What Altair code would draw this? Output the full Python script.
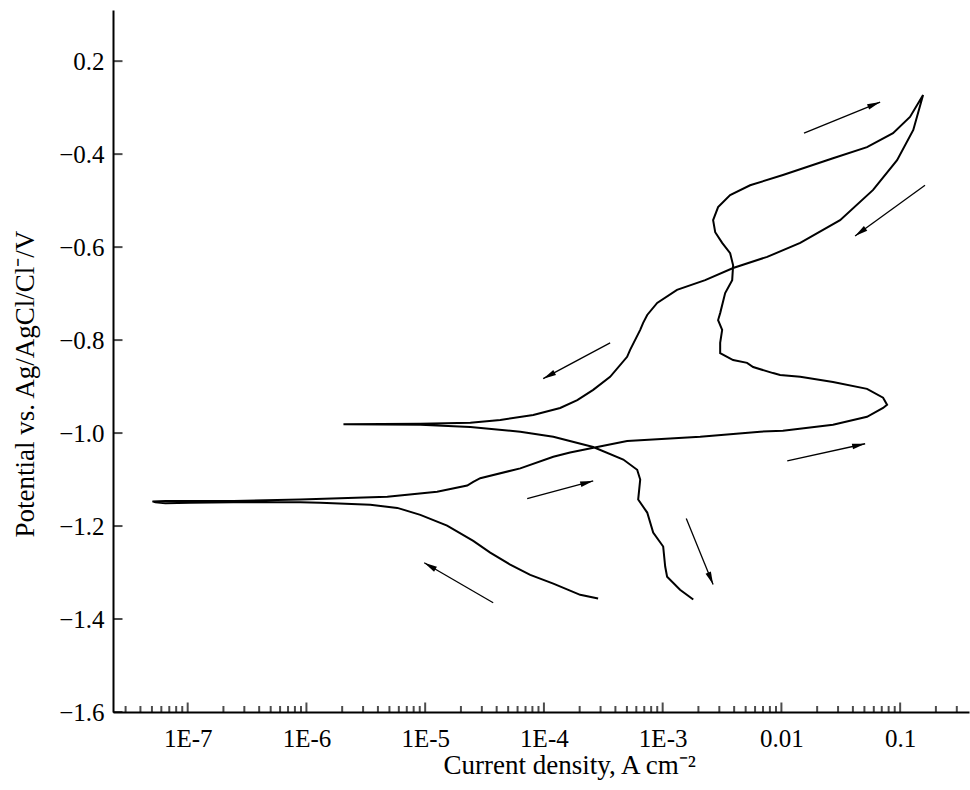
import math
import altair as alt
import pandas as pd

# ---------------- data (current density in A cm^-2, potential in V) ----------------
# forward scan, cathodic part: from start toward the corrosion potential
seg1_i = [2.86e-4, 2.02e-4, 1.20e-4, 7.67e-5, 5.20e-5, 3.53e-5, 2.54e-5, 1.53e-5, 9.10e-6,
          5.82e-6, 3.45e-6, 1.31e-6, 8.89e-7, 2.43e-7, 1.05e-7, 6.49e-8, 5.35e-8, 5.05e-8]
seg1_e = [-1.356, -1.348, -1.324, -1.305, -1.283, -1.257, -1.232, -1.199, -1.176,
          -1.161, -1.154, -1.150, -1.149, -1.149, -1.150, -1.151, -1.149, -1.147]

# forward scan, anodic part up to the vertex
seg2_i = [6.5e-8, 2.43e-7, 8.89e-7, 4.80e-6, 1.26e-5, 2.26e-5, 2.54e-5, 2.91e-5, 6.32e-5,
          1.20e-4, 1.66e-4, 2.81e-4, 5.02e-4, 2.07e-3, 6.62e-3, 1.03e-2, 2.72e-2, 5.26e-2,
          7.18e-2, 7.76e-2, 7.18e-2, 5.26e-2, 2.72e-2, 1.44e-2, 9.75e-3, 8.51e-3, 5.78e-3,
          5.14e-3, 3.92e-3, 3.49e-3, 3.05e-3, 3.05e-3, 3.17e-3, 2.93e-3, 3.05e-3, 3.36e-3,
          3.85e-3, 3.92e-3, 3.70e-3, 3.17e-3, 2.77e-3, 2.66e-3, 2.93e-3, 3.70e-3, 5.45e-3,
          1.03e-2, 2.72e-2, 5.26e-2, 8.71e-2, 0.121, 0.156]
seg2_e = [-1.146, -1.146, -1.143, -1.137, -1.126, -1.113, -1.105, -1.097, -1.076,
          -1.051, -1.042, -1.030, -1.017, -1.008, -0.997, -0.995, -0.982, -0.965,
          -0.946, -0.939, -0.924, -0.905, -0.890, -0.879, -0.875, -0.871, -0.858,
          -0.849, -0.843, -0.836, -0.828, -0.806, -0.778, -0.757, -0.742, -0.699,
          -0.671, -0.639, -0.613, -0.591, -0.568, -0.542, -0.514, -0.488, -0.467,
          -0.445, -0.409, -0.385, -0.355, -0.320, -0.273]

# reverse scan from the vertex down to the new corrosion potential
seg3_i = [0.156, 0.129, 9.42e-2, 5.92e-2, 3.12e-2, 1.44e-2, 7.59e-3, 3.92e-3, 2.28e-3,
          1.32e-3, 8.99e-4, 7.41e-4, 6.85e-4, 6.47e-4, 5.32e-4, 5.02e-4, 3.61e-4, 2.60e-4,
          1.91e-4, 1.37e-4, 8.13e-5, 4.29e-5, 2.40e-5, 9.10e-6, 2.05e-6]
seg3_e = [-0.273, -0.348, -0.413, -0.477, -0.542, -0.591, -0.621, -0.645, -0.671,
          -0.692, -0.720, -0.746, -0.763, -0.778, -0.821, -0.836, -0.879, -0.907,
          -0.929, -0.946, -0.961, -0.972, -0.978, -0.980, -0.981]

# reverse scan, cathodic part
seg4_i = [2.05e-6, 9.10e-6, 2.40e-5, 6.32e-5, 1.20e-4, 2.60e-4, 4.66e-4, 6.10e-4, 6.47e-4,
          6.22e-4, 7.41e-4, 8.32e-4, 1.01e-3, 1.05e-3, 1.09e-3, 1.40e-3, 1.81e-3]
seg4_e = [-0.981, -0.982, -0.987, -0.997, -1.008, -1.030, -1.057, -1.079, -1.100,
          -1.143, -1.171, -1.214, -1.244, -1.287, -1.309, -1.337, -1.358]

# scan-direction arrows (tail -> head)
arrow_tail_i = [1.55e-2, 0.162, 3.61e-4, 1.12e-2, 7.23e-5, 1.58e-3, 3.74e-5]
arrow_tail_e = [-0.355, -0.467, -0.806, -1.060, -1.141, -1.184, -1.365]
arrow_head_i = [6.78e-2, 4.17e-2, 9.86e-5, 5.07e-2, 2.60e-4, 2.66e-3, 9.82e-6]
arrow_head_e = [-0.288, -0.576, -0.883, -1.023, -1.103, -1.326, -1.279]

# axes
x_tick_values = [1e-7, 1e-6, 1e-5, 1e-4, 1e-3, 1e-2, 1e-1]
x_tick_labels = ["1E-7", "1E-6", "1E-5", "1E-4", "1E-3", "0.01", "0.1"]
minor_mantissas = [2, 3, 4, 5, 6, 7, 8, 9]
minor_exponents = [-8, -7, -6, -5, -4, -3, -2, -1]
y_tick_values = [-1.6, -1.4, -1.2, -1.0, -0.8, -0.6, -0.4, -0.2]
y_tick_labels = ["\u22121.6", "\u22121.4", "\u22121.2", "\u22121.0", "\u22120.8",
                 "\u22120.6", "\u22120.4", "0.2"]

x_domain = [2.35e-8, 0.38]
y_domain = [-1.6, -0.09]
W, H = 856, 702
FONT = "Liberation Serif"

# ---------------- tables ----------------
cur_i = seg1_i + seg2_i + seg3_i + seg4_i
cur_e = seg1_e + seg2_e + seg3_e + seg4_e
curve = pd.DataFrame({"i": cur_i, "e": cur_e, "k": list(range(len(cur_i)))})

minor_vals = [m * 10.0 ** p for p in minor_exponents for m in minor_mantissas
              if x_domain[0] <= m * 10.0 ** p <= x_domain[1]]
xmaj = pd.DataFrame({"i": x_tick_values})
xmin_df = pd.DataFrame({"i": minor_vals})
ytk = pd.DataFrame({"e": y_tick_values})


def px(v):
    lo, hi = math.log10(x_domain[0]), math.log10(x_domain[1])
    return W * (math.log10(v) - lo) / (hi - lo)


def py(v):
    return H * (y_domain[1] - v) / (y_domain[1] - y_domain[0])


angles = []
for ti, te, hi_, he in zip(arrow_tail_i, arrow_tail_e, arrow_head_i, arrow_head_e):
    dx = px(hi_) - px(ti)
    dy = py(he) - py(te)
    angles.append(math.degrees(math.atan2(dx, -dy)) % 360)

arrows = pd.DataFrame({"ti": arrow_tail_i, "te": arrow_tail_e,
                       "hi": arrow_head_i, "he": arrow_head_e, "ang": angles})

# ---------------- encodings ----------------
xs = alt.Scale(type="log", domain=x_domain)
ys = alt.Scale(domain=y_domain, zero=False, nice=False)

x_expr = " : ".join(
    f"datum.value < {v * 3.0} ? '{lab}'" for v, lab in zip(x_tick_values[:-1], x_tick_labels[:-1])
) + f" : '{x_tick_labels[-1]}'"
y_expr = "[" + ",".join(f"'{s}'" for s in y_tick_labels) + "][round((datum.value + 1.6) / 0.2)]"

X_TITLE = "Current density, A cm\u207b\u00b2"
Y_TITLE = "Potential vs. Ag/AgCl/Cl\u207b/V"

common = dict(tickSize=0, grid=False, domainWidth=2, domainColor="black", labelOverlap=False,
              labelFont=FONT, labelFontSize=25, labelColor="black",
              titleFont=FONT, titleFontSize=27, titleFontWeight="normal", titleColor="black",
              titleBaseline="alphabetic", titleAlign="left")
x_axis = alt.Axis(values=x_tick_values, labelExpr=x_expr, labelPadding=14,
                  titleX=330, titleY=61, **common)
y_axis = alt.Axis(values=y_tick_values, labelExpr=y_expr, labelPadding=9,
                  titleX=-80, titleY=527, titleAngle=270, **common)


def X(field):
    return alt.X(field, type="quantitative", scale=xs, axis=x_axis, title=X_TITLE)


def Y(field):
    return alt.Y(field, type="quantitative", scale=ys, axis=y_axis, title=Y_TITLE)


line = alt.Chart(curve).mark_line(color="black", strokeWidth=2, interpolate="linear").encode(
    x=X("i"),
    y=Y("e"),
    order=alt.Order("k:Q"),
)

major_ticks = alt.Chart(xmaj).mark_tick(orient="vertical", size=9.5, thickness=2,
                                        color="black", yOffset=-4.75).encode(
    x=X("i"),
    y=alt.datum(y_domain[0], type="quantitative", scale=ys, axis=y_axis, title=Y_TITLE),
)
minor_ticks = alt.Chart(xmin_df).mark_tick(orient="vertical", size=6, thickness=2,
                                           color="black", yOffset=-3).encode(
    x=X("i"),
    y=alt.datum(y_domain[0], type="quantitative", scale=ys, axis=y_axis, title=Y_TITLE),
)
y_ticks = alt.Chart(ytk).mark_tick(orient="horizontal", size=9.5, thickness=2,
                                   color="black", xOffset=4.75).encode(
    y=Y("e"),
    x=alt.datum(x_domain[0], type="quantitative", scale=xs, axis=x_axis, title=X_TITLE),
)

shafts = alt.Chart(arrows).mark_rule(color="black", strokeWidth=1.3).encode(
    x=X("ti"),
    y=Y("te"),
    x2="hi:Q",
    y2="he:Q",
)
heads = alt.Chart(arrows).mark_point(
    shape="M0,0L0.22,1L-0.22,1Z", filled=True, color="black", size=676, opacity=1,
    strokeWidth=0,
).encode(
    x=X("hi"),
    y=Y("he"),
    angle=alt.Angle("ang:Q", scale=None),
)

chart = alt.layer(line, major_ticks, minor_ticks, y_ticks, shafts, heads).properties(
    width=W,
    height=H,
    autosize=alt.AutoSizeParams(type="none"),
    padding={"left": 113, "top": 10, "right": 1, "bottom": 78},
    background="white",
).configure(
    font=FONT,
    style={"guide-label": {"font": FONT}, "guide-title": {"font": FONT}},
).configure_view(stroke=None).configure_axis(
    labelFont=FONT, titleFont=FONT,
)

chart.save("out.html", embed_options={"renderer": "svg", "actions": False})
